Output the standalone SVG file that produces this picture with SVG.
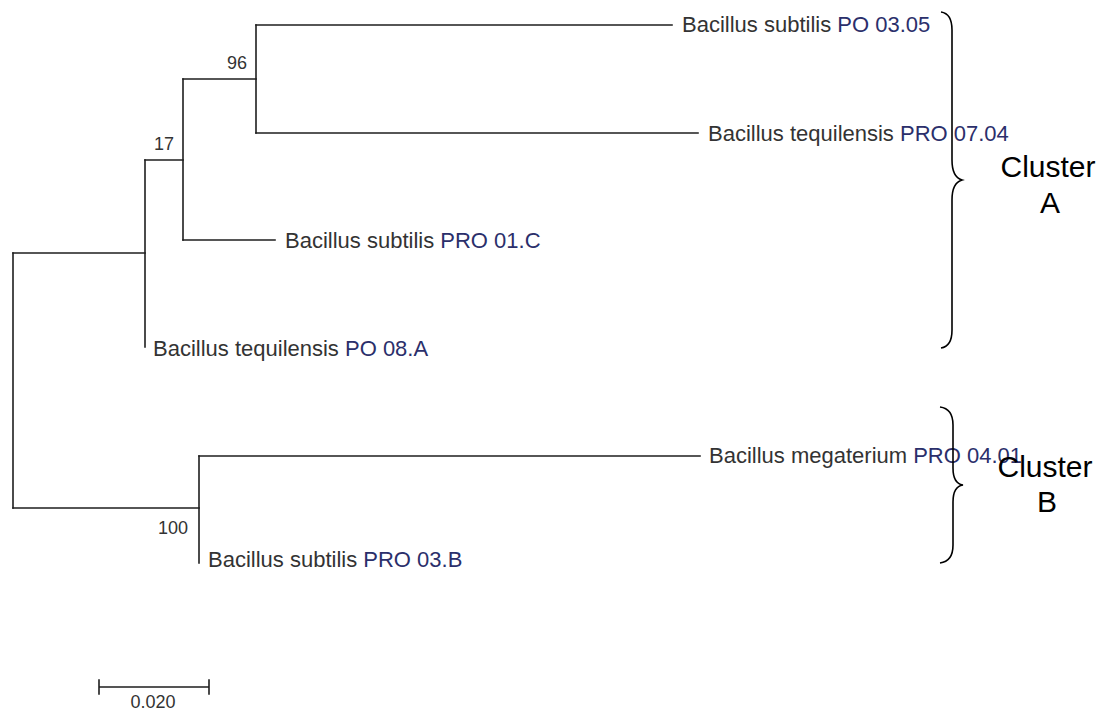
<svg xmlns="http://www.w3.org/2000/svg" width="1101" height="710" viewBox="0 0 1101 710">
<style>
.br{fill:none;stroke:#1e1e1e;stroke-width:1.6;stroke-linecap:square}
.brace{fill:none;stroke:#000;stroke-width:1.6}
.tip{font-family:"Liberation Sans",Arial,sans-serif;font-size:22px;fill:#333}
.id{fill:#2b2f6b}
.bs{font-family:"Liberation Sans",Arial,sans-serif;font-size:18px;fill:#333}
.cl{font-family:"Liberation Sans",Arial,sans-serif;font-size:30px;fill:#000;text-anchor:middle}
</style>
<rect width="1101" height="710" fill="#fff"/>
<g id="connectors">
<path class="br" d="M13 253 V508"/>
<path class="br" d="M13 253 H145"/>
<path class="br" d="M13 508 H199"/>
<path class="br" d="M145 160 V347"/>
<path class="br" d="M145 160 H183"/>
<path class="br" d="M183 79 V240"/>
<path class="br" d="M183 79 H256"/>
<path class="br" d="M183 240 H275"/>
<path class="br" d="M256 25 V133"/>
<path class="br" d="M256 25 H672"/>
<path class="br" d="M256 133 H698"/>
<path class="br" d="M199 456 V563"/>
<path class="br" d="M199 456 H700"/>
</g>
<g id="node-96"><text class="bs" x="247" y="69" text-anchor="end">96</text></g>
<g id="node-17"><text class="bs" x="174" y="150" text-anchor="end">17</text></g>
<g id="node-100"><text class="bs" x="188" y="534" text-anchor="end">100</text></g>
<g id="leaf-po0305"><text class="tip" x="682" y="32">Bacillus subtilis <tspan class="id">PO 03.05</tspan></text></g>
<g id="leaf-pro0704"><text class="tip" x="708" y="141">Bacillus tequilensis <tspan class="id">PRO 07.04</tspan></text></g>
<g id="leaf-pro01c"><text class="tip" x="285" y="248">Bacillus subtilis <tspan class="id">PRO 01.C</tspan></text></g>
<g id="leaf-po08a"><text class="tip" x="153" y="356">Bacillus tequilensis <tspan class="id">PO 08.A</tspan></text></g>
<g id="leaf-pro0401"><text class="tip" x="709" y="463">Bacillus megaterium <tspan class="id">PRO 04.01</tspan></text></g>
<g id="leaf-pro03b"><text class="tip" x="208" y="567">Bacillus subtilis <tspan class="id">PRO 03.B</tspan></text></g>
<g id="cluster-a">
<path class="brace" d="M941 12 C948 13 952 18 952 30 L952 160 C952 172 955 178 962 180 C955 182 952 188 952 200 L952 330 C952 342 948 347 941 348"/>
<text class="cl" x="1048" y="177">Cluster</text>
<text class="cl" x="1050" y="213">A</text>
</g>
<g id="cluster-b">
<path class="brace" d="M940 407 C948 408 953 413 953 425 L953 468 C953 479 956 484 963 485 C956 486 953 491 953 502 L953 545 C953 557 948 562 940 563"/>
<text class="cl" x="1045" y="477">Cluster</text>
<text class="cl" x="1047" y="512">B</text>
</g>
<g id="scale-bar">
<path class="br" d="M99 687 H209 M99 680 V694 M209 680 V694"/>
<text class="bs" x="153" y="708" text-anchor="middle">0.020</text>
</g>
</svg>
